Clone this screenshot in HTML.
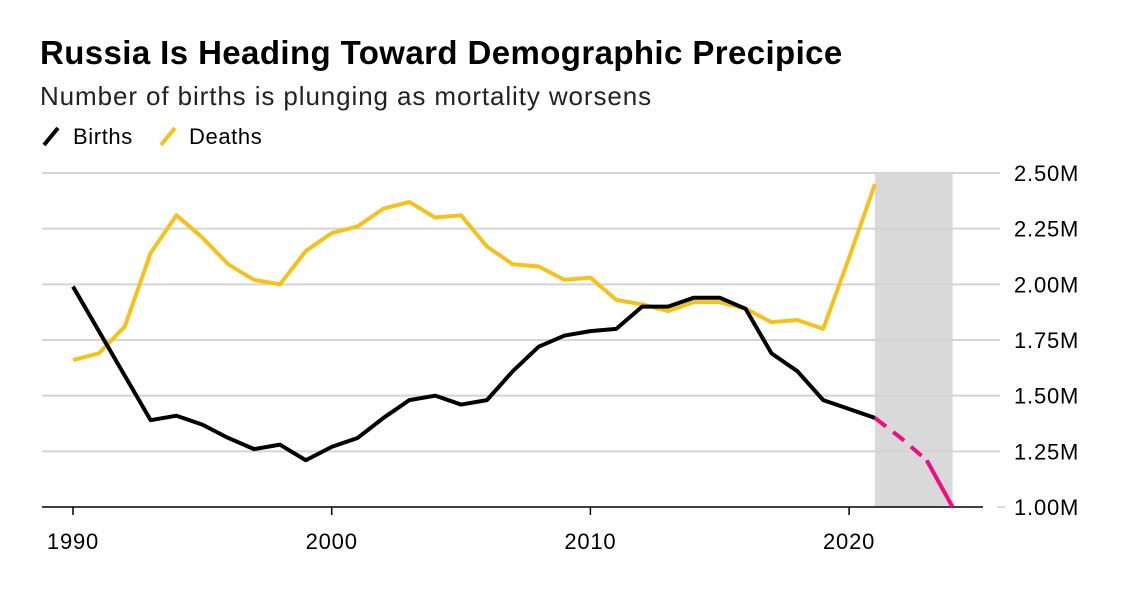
<!DOCTYPE html>
<html><head><meta charset="utf-8"><style>
body{margin:0;background:#fff;width:1122px;height:590px;overflow:hidden;font-family:"Liberation Sans",Arial,sans-serif}
</style></head><body>
<svg width="1122" height="590" xmlns="http://www.w3.org/2000/svg">
<text x="40" y="64" font-size="33" font-weight="bold" fill="#000" letter-spacing="0.4">Russia Is Heading Toward Demographic Precipice</text>
<text x="40" y="105" font-size="26" fill="#222" letter-spacing="0.9">Number of births is plunging as mortality worsens</text>
<g><line x1="44" y1="145" x2="58" y2="128" stroke="#000" stroke-width="4"/><text x="73" y="144" font-size="22" letter-spacing="0.6" fill="#000">Births</text></g>
<g><line x1="161" y1="145" x2="175" y2="128" stroke="#f5c21b" stroke-width="4"/><text x="189" y="144" font-size="22" letter-spacing="0.6" fill="#000">Deaths</text></g>
<g id="plot"></g>
</svg>
<script>
const years=[1990,1991,1992,1993,1994,1995,1996,1997,1998,1999,2000,2001,2002,2003,2004,2005,2006,2007,2008,2009,2010,2011,2012,2013,2014,2015,2016,2017,2018,2019,2020,2021];
const births=[1.99,1.79,1.59,1.39,1.41,1.37,1.31,1.26,1.28,1.21,1.27,1.31,1.40,1.48,1.50,1.46,1.48,1.61,1.72,1.77,1.79,1.80,1.90,1.90,1.94,1.94,1.89,1.69,1.61,1.48,1.44,1.40];
const deaths=[1.66,1.69,1.81,2.14,2.31,2.21,2.09,2.02,2.00,2.15,2.23,2.26,2.34,2.37,2.30,2.31,2.17,2.09,2.08,2.02,2.03,1.93,1.91,1.88,1.92,1.92,1.89,1.83,1.84,1.80,2.12,2.45];
const projYears=[2021,2022,2023,2024];
const projBirths=[1.40,1.31,1.21,1.00];
const yTicks=[1.00,1.25,1.50,1.75,2.00,2.25,2.50];
const yTickLabels=["1.00M","1.25M","1.50M","1.75M","2.00M","2.25M","2.50M"];
const xTicks=[1990,2000,2010,2020];
const band=[2021,2024];
const NS="http://www.w3.org/2000/svg";
const X=y=>73+(y-1990)*25.87;
const Y=v=>507-(v-1)/1.5*334;
const g=document.getElementById('plot');
function mk(t,a){const e=document.createElementNS(NS,t);for(const k in a)e.setAttribute(k,a[k]);g.appendChild(e);return e;}
const b=mk('rect',{x:X(band[0]),y:Y(2.5),width:X(band[1])-X(band[0]),height:Y(1)-Y(2.5),fill:'#d9d9d9'});


yTicks.forEach((v,i)=>{
 if(i>0){const l=mk('line',{x1:42,x2:1000,y1:Y(v),y2:Y(v),stroke:'#d4d4d4','stroke-width':2});
 
 }
 const t=mk('text',{x:1014,y:Y(v)+8,'font-size':22,'letter-spacing':0.8,fill:'#000'});t.textContent=yTickLabels[i];
 
 
});
const ax=mk('line',{x1:42,x2:983,y1:507,y2:507,stroke:'#000','stroke-width':1.5});


mk('line',{x1:997,x2:1005,y1:507,y2:507,stroke:'#ccc','stroke-width':1.5});
xTicks.forEach(y=>{
 mk('line',{x1:X(y),x2:X(y),y1:507,y2:515,stroke:'#000','stroke-width':1.5});
 const t=mk('text',{x:X(y),y:549,'font-size':22,'letter-spacing':0.8,fill:'#000','text-anchor':'middle'});t.textContent=y;
 
 
});
const pts=(xs,vs)=>xs.map((y,i)=>X(y)+','+Y(vs[i])).join(' ');
const d=mk('polyline',{points:pts(years,deaths),fill:'none',stroke:'#f5c21b','stroke-width':4,'stroke-linejoin':'round'});


const bl=mk('polyline',{points:pts(years,births),fill:'none',stroke:'#000','stroke-width':4,'stroke-linejoin':'round'});


const p1=mk('polyline',{points:pts(projYears.slice(0,3),projBirths.slice(0,3)),fill:'none',stroke:'#ee0e84','stroke-width':4,'stroke-dasharray':'14,9'});


const p2=mk('polyline',{points:pts(projYears.slice(2),projBirths.slice(2)),fill:'none',stroke:'#ee0e84','stroke-width':4});


</script>
</body></html>
